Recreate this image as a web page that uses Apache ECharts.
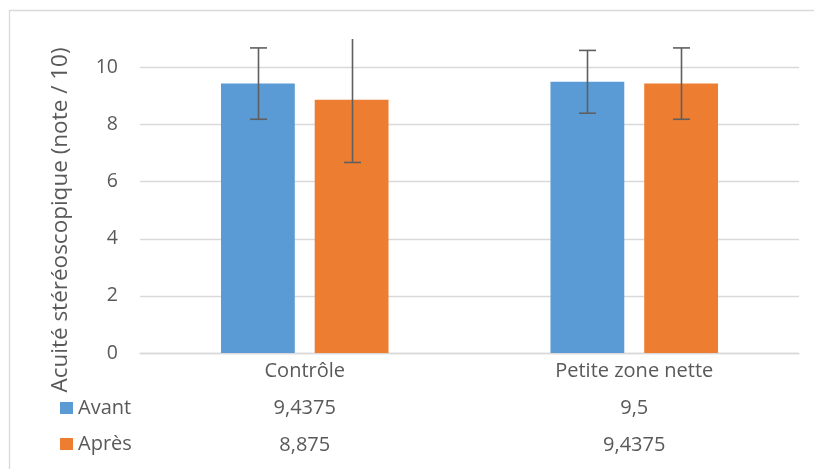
<!DOCTYPE html>
<html>
<head>
<meta charset="utf-8">
<script src="https://cdn.jsdelivr.net/npm/echarts@6/dist/echarts.min.js"></script>
<style>
html,body{margin:0;padding:0;background:#fff;}
#c{width:814px;height:469px;}
</style>
</head>
<body>
<div id="c"></div>
<script>
const categories = ['Contrôle', 'Petite zone nette'];
const seriesNames = ['Avant', 'Après'];
const avant = [9.4375, 9.5];
const apres = [8.875, 9.4375];
const avantErr = [1.25, 1.1];
const apresErr = [2.2, 1.25];
const yTicks = [0, 2, 4, 6, 8, 10];

const YMAX = 11;
const BAR_W = 0.224;
const BAR_GAP = 0.27;
const FONT = 'Open Sans';
const TXT = '#595959';

function fr(v){ return String(v).replace('.', ','); }

function errSeries(vals, errs, idx){
  return {
    type: 'custom',
    name: seriesNames[idx] + ' err',
    z: 10,
    silent: true,
    data: vals.map((v, i) => [i, v, errs[i]]),
    renderItem: function(params, api){
      const ci = api.value(0), v = api.value(1), e = api.value(2);
      const band = api.size([1, 0])[0];
      const bw = band * BAR_W;
      const off = (bw + bw * BAR_GAP) / 2 * (idx === 0 ? -1 : 1);
      const c = api.coord([ci, v]);
      const x = Math.round(c[0] + off) + 0.5;
      const hi = Math.min(v + e, YMAX);
      const lo = Math.max(v - e, 0);
      const pTop = api.coord([ci, hi])[1];
      const pBot = api.coord([ci, lo])[1];
      const st = {stroke: '#5f5f5f', lineWidth: 1.6};
      const children = [
        {type: 'line', shape: {x1: x, y1: pTop, x2: x, y2: pBot}, style: st}
      ];
      const capW = 8.5;
      if (v + e <= YMAX) children.push({type: 'line', shape: {x1: x - capW, y1: pTop, x2: x + capW, y2: pTop}, style: st});
      children.push({type: 'line', shape: {x1: x - capW, y1: pBot, x2: x + capW, y2: pBot}, style: st});
      return {type: 'group', children: children};
    }
  };
}

const chart = echarts.init(document.getElementById('c'), null, {renderer: 'canvas'});
chart.setOption({
  animation: false,
  backgroundColor: '#fff',
  textStyle: {fontFamily: FONT},
  grid: {left: 140, right: 15, top: 39, bottom: 116},
  legend: {
    orient: 'vertical',
    left: 60,
    top: 398,
    padding: 0,
    itemWidth: 13,
    itemHeight: 12,
    itemGap: 16,
    icon: 'rect',
    textStyle: {color: TXT, fontSize: 20, fontFamily: FONT, lineHeight: 20},
    data: seriesNames
  },
  xAxis: {
    type: 'category',
    data: categories,
    axisLine: {show: true, lineStyle: {color: '#d9d9d9', width: 1.3}},
    axisTick: {show: false},
    axisLabel: {
      margin: 0,
      color: TXT,
      fontSize: 20,
      fontFamily: FONT,
      lineHeight: 37,
      formatter: function(val, i){
        return val + '\n' + fr(avant[i]) + '\n' + fr(apres[i]);
      }
    }
  },
  yAxis: {
    type: 'value',
    min: 0,
    max: YMAX,
    interval: 2,
    axisLine: {show: false},
    axisTick: {show: false},
    splitLine: {show: true, showMaxLine: false, lineStyle: {color: '#d9d9d9', width: 1.3}},
    axisLabel: {
      color: TXT, fontSize: 19.5, fontFamily: FONT, margin: 22, showMaxLabel: false,
      formatter: function(v){ return yTicks.indexOf(v) >= 0 ? String(v) : ''; }
    }
  },
  series: [
    {name: seriesNames[0], type: 'bar', data: avant, barWidth: (BAR_W*100) + '%', barGap: (BAR_GAP*100) + '%', itemStyle: {color: '#5B9BD5'}},
    {name: seriesNames[1], type: 'bar', data: apres, barWidth: (BAR_W*100) + '%', barGap: (BAR_GAP*100) + '%', itemStyle: {color: '#ED7D31'}},
    errSeries(avant, avantErr, 0),
    errSeries(apres, apresErr, 1)
  ],
  graphic: [
    {type: 'rect', shape: {x: 9.5, y: 10.5, width: 830, height: 490}, style: {fill: 'none', stroke: '#d9d9d9', lineWidth: 1.3}, silent: true, z: -1},
    {type: 'text', x: 61, y: 220, rotation: Math.PI / 2,
     style: {text: 'Acuité stéréoscopique (note / 10)', fill: TXT, font: '22.5px "Open Sans"', align: 'center', verticalAlign: 'middle'}}
  ]
});
</script>
</body>
</html>
